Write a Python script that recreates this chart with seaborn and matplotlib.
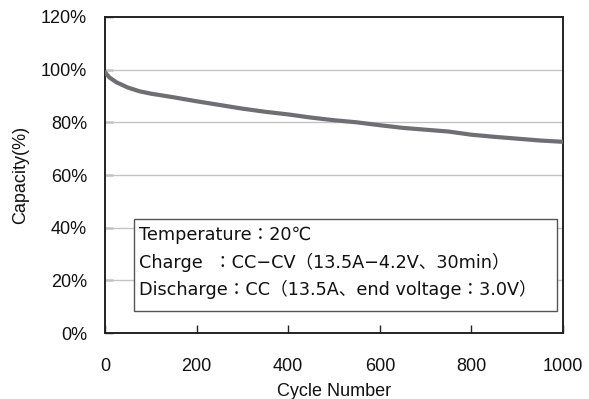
import matplotlib
matplotlib.use("Agg")
import matplotlib.pyplot as plt
import seaborn as sns
import pandas as pd
from matplotlib.patches import Rectangle

# Cycle-life data: capacity retention vs. cycle number
cycles = [0, 10, 25, 50, 75, 100, 150, 200, 250, 300, 350, 400, 450, 500,
          550, 600, 650, 700, 750, 800, 850, 900, 950, 1000]
capacity = [99.0, 97.0, 95.2, 93.2, 91.8, 90.9, 89.5, 88.0, 86.6, 85.2, 84.0,
            83.0, 81.8, 80.8, 80.0, 78.9, 77.9, 77.2, 76.5, 75.3, 74.5, 73.8,
            73.1, 72.6]

x_ticks = [0, 200, 400, 600, 800, 1000]
y_ticks = [0, 20, 40, 60, 80, 100, 120]
y_tick_labels = [f"{v}%" for v in y_ticks]

conditions = [
    "Temperature：20℃",
    "Charge  ：CC−CV（13.5A−4.2V、30min）",
    "Discharge：CC（13.5A、end voltage：3.0V）",
]

sns.set_theme(style="white")
plt.rcParams["font.family"] = ["Liberation Sans", "DejaVu Sans"]

df = pd.DataFrame({"Cycle": cycles, "Capacity": capacity})

fig = plt.figure(figsize=(5.89, 3.99), dpi=100)
ax = fig.add_axes([0.1783, 0.1654, 0.7776, 0.792])

sns.lineplot(data=df, x="Cycle", y="Capacity", ax=ax, color="#6e6e73",
             linewidth=3.0, zorder=3)

ax.set_xlim(0, 1000)
ax.set_ylim(0, 120)
ax.set_xticks(x_ticks)
ax.set_yticks(y_ticks)
ax.set_yticklabels(y_tick_labels)

# horizontal gridlines
for v in y_ticks[1:-1]:
    ax.axhline(v, color="#c4c4c4", linewidth=1.0, zorder=1)

for side in ["left", "right", "top", "bottom"]:
    ax.spines[side].set_visible(True)
    ax.spines[side].set_color("#222222")
    ax.spines[side].set_linewidth(1.4)

ax.tick_params(axis="both", direction="in", length=6, width=1.0,
               color="#222222", labelsize=13, labelcolor="#111111")
ax.tick_params(axis="x", pad=18, bottom=True)
ax.tick_params(axis="y", pad=13, left=True)

ax.set_xlabel("Cycle Number", fontsize=13, color="#111111", labelpad=6)
ax.set_ylabel("Capacity(%)", fontsize=13, color="#111111", labelpad=8)

# test-condition box
ax.add_patch(Rectangle((64, 8.4), 923.5, 34.9, facecolor="white",
                       edgecolor="#555555", linewidth=1.0, zorder=4))
for text, yv in zip(conditions, [37.2, 26.7, 16.7]):
    ax.text(75, yv, text, fontsize=12.7, va="center", ha="left", color="#111111",
            family=["DejaVu Sans", "Noto Sans CJK JP"], zorder=5)

fig.savefig("out.png", dpi=100)
